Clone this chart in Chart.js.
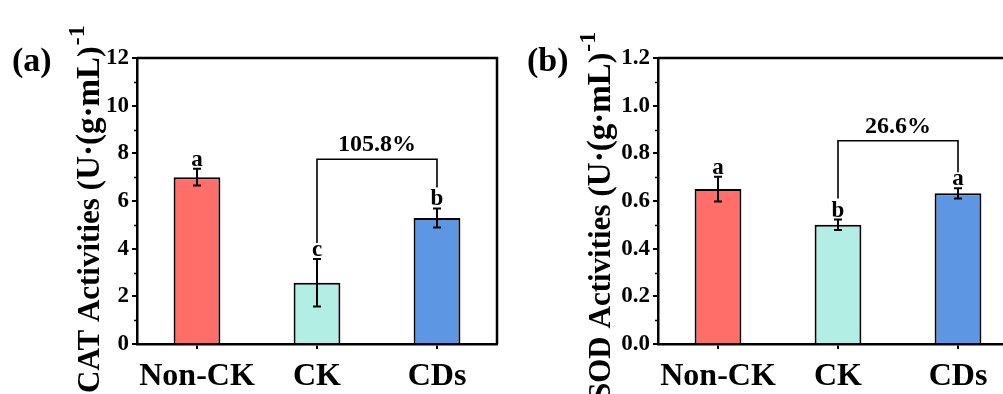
<!DOCTYPE html>
<html>
<head>
<meta charset="utf-8">
<script src="https://cdn.jsdelivr.net/npm/chart.js@4/dist/chart.umd.min.js"></script>
<style>
html,body{margin:0;padding:0;width:1003px;height:394px;overflow:hidden;background:#fff;}
#wrapA{position:absolute;left:0;top:0;width:500px;height:394px;}
#wrapB{position:absolute;left:500px;top:0;width:540px;height:394px;}
</style>
</head>
<body>
<div id="wrapA"><canvas id="cA" width="500" height="394"></canvas></div>
<div id="wrapB"><canvas id="cB" width="540" height="394"></canvas></div>
<script>
// ---- data ----
const categories = ["Non-CK", "CK", "CDs"];
const catValues = [7.0, 2.57, 5.29];
const catErrors = [0.35, 1.0, 0.40];
const catLetters = ["a", "c", "b"];
const catTicks = [0, 2, 4, 6, 8, 10, 12];
const catBracket = { from: 1, to: 2, value: 7.75, label: "105.8%" };

const sodValues = [0.65, 0.50, 0.632];
const sodErrors = [0.052, 0.022, 0.022];
const sodLetters = ["a", "b", "a"];
const sodTicks = [0.0, 0.2, 0.4, 0.6, 0.8, 1.0, 1.2];
const sodBracket = { from: 1, to: 2, value: 0.853, label: "26.6%" };

const barColors = ["#FF6E68", "#B2EEE4", "#5D97E3"];
const FONT = "'Liberation Serif','Times New Roman',serif";

const annoPlugin = {
  id: 'anno',
  afterDatasetsDraw(chart, args, opts) {
    const ctx = chart.ctx;
    const ca = chart.chartArea;
    const x = chart.scales.x, y = chart.scales.y;
    ctx.save();
    ctx.strokeStyle = '#000';
    ctx.lineWidth = 1.5;
    const t = opts.ticks;
    for (let i = 0; i < t.length - 1; i++) {
      const m = (t[i] + t[i + 1]) / 2;
      const py = Math.round(y.getPixelForValue(m)) + 0.5;
      ctx.beginPath(); ctx.moveTo(ca.left - 3, py); ctx.lineTo(ca.left, py); ctx.stroke();
    }
    ctx.lineWidth = 2.5;
    ctx.beginPath();
    ctx.moveTo(ca.left, ca.top); ctx.lineTo(ca.right, ca.top); ctx.lineTo(ca.right, ca.bottom);
    ctx.stroke();
    const meta = chart.getDatasetMeta(0);
    const tops = [];
    ctx.lineWidth = 2;
    opts.values.forEach((v, i) => {
      const px = meta.data[i].x;
      const yt = y.getPixelForValue(v + opts.errors[i]);
      const yb = y.getPixelForValue(v - opts.errors[i]);
      ctx.beginPath();
      ctx.moveTo(px, yt); ctx.lineTo(px, yb);
      ctx.moveTo(px - 4, yt); ctx.lineTo(px + 4, yt);
      ctx.moveTo(px - 4, yb); ctx.lineTo(px + 4, yb);
      ctx.stroke();
      ctx.font = "bold 23px " + FONT;
      ctx.fillStyle = '#000';
      ctx.textAlign = 'center';
      ctx.textBaseline = 'alphabetic';
      const base = yt - 3;
      ctx.fillText(opts.letters[i], px, base);
      const mt = ctx.measureText(opts.letters[i]);
      tops.push(base - mt.actualBoundingBoxAscent - 2);
    });
    const b = opts.bracket;
    const by = y.getPixelForValue(b.value);
    const x1 = meta.data[b.from].x, x2 = meta.data[b.to].x;
    ctx.lineWidth = 1.6;
    ctx.beginPath();
    ctx.moveTo(x1, tops[b.from]); ctx.lineTo(x1, by); ctx.lineTo(x2, by); ctx.lineTo(x2, tops[b.to]);
    ctx.stroke();
    ctx.font = "bold 24px " + FONT;
    ctx.textAlign = 'center';
    ctx.fillText(b.label, (x1 + x2) / 2, by - 8);
    ctx.font = "bold 34px " + FONT;
    ctx.textAlign = 'left';
    ctx.fillText(opts.panel, opts.panelX, 71);
    ctx.translate(opts.titleX, opts.titleY);
    ctx.rotate(-Math.PI / 2);
    ctx.textAlign = 'left';
    let cx = 0;
    const segs = [[opts.title, 31, 0], ["(", 32, 0], ["U\u00B7(g\u00B7mL", 33, 0], [")", 32, 0], ["-1", 24, -15]];
    segs.forEach(s => {
      ctx.font = "bold " + s[1] + "px " + FONT;
      ctx.fillText(s[0], cx, s[2]);
      cx += ctx.measureText(s[0]).width + (s[0] === ")" ? 1 : 0);
    });
    ctx.restore();
  }
};

function makeChart(id, values, errors, letters, ticks, bracket, max, step, leftW, rightPad, panel, panelX, title, titleX, titleY) {
  return new Chart(document.getElementById(id), {
    type: 'bar',
    data: {
      labels: categories,
      datasets: [{
        data: values,
        backgroundColor: barColors,
        borderColor: '#000',
        borderWidth: 2,
        borderSkipped: 'bottom',
        barPercentage: 0.39,
        categoryPercentage: 1.0
      }]
    },
    options: {
      responsive: false,
      devicePixelRatio: 1,
      animation: false,
      layout: { padding: { top: 58, right: rightPad, left: 0, bottom: 0 } },
      plugins: {
        legend: { display: false },
        tooltip: { enabled: false },
        anno: { values, errors, letters, bracket, ticks, panel, panelX, title, titleX, titleY }
      },
      scales: {
        x: {
          grid: { display: true, drawOnChartArea: false, offset: false, tickLength: 5, color: '#000', lineWidth: 2 },
          border: { display: true, color: '#000', width: 2.5 },
          ticks: { color: '#000', padding: 9, maxRotation: 0, minRotation: 0, autoSkip: false,
                   font: { family: FONT, size: 32, weight: 'bold' } },
          afterFit(s) { s.height = 50; }
        },
        y: {
          min: 0, max: max,
          afterBuildTicks(s) { s.ticks = ticks.map(v => ({ value: v })); },
          grid: { display: true, drawOnChartArea: false, tickLength: 5, color: '#000', lineWidth: 2 },
          border: { display: true, color: '#000', width: 2.5 },
          ticks: {
            color: '#000', padding: 3,
            font: { family: FONT, size: 23, weight: 'bold' },
            callback: (v) => step < 1 ? Number(v).toFixed(1) : String(v)
          },
          afterFit(s) { s.width = leftW; }
        }
      }
    },
    plugins: [annoPlugin]
  });
}

makeChart('cA', catValues, catErrors, catLetters, catTicks, catBracket, 12, 2, 137, 3,
  "(a)", 12, "CAT Activities ", 99, 393);
makeChart('cB', sodValues, sodErrors, sodLetters, sodTicks, sodBracket, 1.2, 0.2, 158, 22,
  "(b)", 27, "SOD Activities ", 110, 400);
</script>
</body>
</html>
